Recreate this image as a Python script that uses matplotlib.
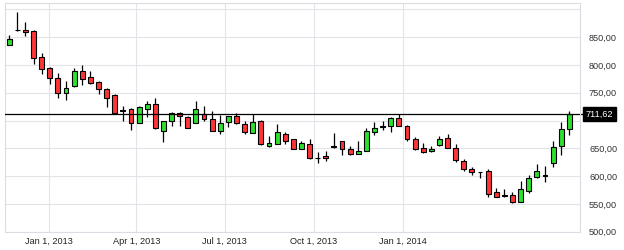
import numpy as np
import pandas as pd
import matplotlib
matplotlib.use("Agg")
import matplotlib.pyplot as plt
from matplotlib.transforms import blended_transform_factory

plt.rcParams['font.family'] = ['Liberation Sans', 'DejaVu Sans']

# Candle dates (one bar roughly every 8 days)
dates = pd.date_range("2012-11-21", "2014-06-21", periods=70)

opens = [835, 862, 862, 861, 815, 794, 777, 749, 762, 790,
         778, 769, 756, 746, 719, 721, 696, 720, 729, 681,
         700, 714, 707, 696, 712, 702, 682, 697, 708, 693,
         678, 700, 655, 658, 676, 666, 649, 658, 633, 637,
         652, 663, 648, 640, 646, 680, 688, 691, 705, 690,
         666, 651, 645, 656, 669, 651, 627, 613, 608, 609,
         572, 566, 566, 554, 573, 598, 601, 624, 655, 685]
highs = [854, 896, 878, 863, 822, 797, 786, 772, 794, 800,
         790, 772, 759, 747, 726, 722, 726, 736, 741, 700,
         716, 715, 708, 736, 727, 718, 710, 708, 714, 700,
         711, 701, 672, 693, 680, 667, 664, 666, 644, 646,
         678, 664, 654, 663, 686, 698, 700, 706, 711, 692,
         671, 659, 655, 672, 675, 658, 630, 616, 608, 612,
         579, 577, 572, 592, 602, 621, 619, 663, 697, 718]
lows = [835, 861, 852, 802, 784, 766, 741, 737, 761, 764,
        766, 748, 724, 713, 699, 683, 695, 706, 684, 661,
        690, 690, 686, 695, 699, 681, 676, 688, 694, 675,
        677, 656, 653, 657, 658, 648, 648, 631, 624, 628,
        651, 638, 638, 640, 645, 674, 683, 679, 690, 664,
        647, 642, 643, 655, 650, 626, 610, 602, 596, 563,
        562, 562, 551, 553, 570, 597, 589, 616, 638, 674]
closes = [846, 863, 860, 813, 792, 777, 749, 758, 790, 775,
          767, 756, 741, 714, 718, 696, 724, 729, 687, 699,
          714, 708, 687, 721, 703, 682, 696, 708, 696, 679,
          698, 657, 660, 680, 663, 649, 660, 632, 632, 632,
          655, 648, 640, 646, 681, 686, 691, 705, 691, 666,
          648, 643, 649, 667, 651, 629, 613, 608, 607, 568,
          563, 565, 554, 577, 597, 610, 602, 653, 685, 711.62]

last_price = closes[-1]
yticks = [500, 550, 600, 650, 700, 750, 800, 850, 900]
# 900 is off the label area, 700 sits under the last-price tag
hidden_labels = [700, 900]
xticks = pd.to_datetime(["2013-01-01", "2013-04-01", "2013-07-01",
                         "2013-10-01", "2014-01-01"])

o = np.array(opens, dtype=float)
c = np.array(closes, dtype=float)
colors = np.where(c >= o, "#2de02d", "#ff3535")

fig = plt.figure(figsize=(6.24, 2.5), dpi=100)
ax = fig.add_axes([5 / 624, 18.3 / 250, 575 / 624, 229 / 250])

ax.vlines(dates, lows, highs, color="black", linewidth=0.9, zorder=2)
ax.bar(dates, c - o, bottom=o, width=5.0, color=colors,
       edgecolor="black", linewidth=0.8, zorder=3)

# last price line and tag
ax.axhline(last_price, color="black", linewidth=0.9, zorder=4)
trans = blended_transform_factory(ax.transAxes, ax.transData)
ax.plot([1.0, 1.006], [last_price, last_price], color="black",
        linewidth=0.9, transform=trans, clip_on=False)
ax.text(1.0095, last_price, f"{last_price:.2f}".replace(".", ","),
        transform=trans, ha="left", va="center", color="white",
        fontsize=6.6, zorder=10,
        bbox=dict(boxstyle="square,pad=0.3", facecolor="black",
                  edgecolor="black"))

ax.set_ylim(500, 912)
ax.set_xlim(pd.Timestamp("2012-11-16 16:00"), pd.Timestamp("2014-07-02"))

ax.yaxis.tick_right()
ax.set_yticks(yticks)
ax.set_yticklabels(["" if v in hidden_labels else f"{v:.2f}".replace(".", ",")
                    for v in yticks])
ax.set_xticks(xticks)
ax.set_xticklabels([d.strftime("%b %-d, %Y") for d in xticks])
ax.tick_params(axis="y", length=0, pad=6.5, labelsize=6.6,
               labelcolor="#333333")
ax.tick_params(axis="x", length=0, pad=4, labelsize=6.6,
               labelcolor="#222222")

ax.grid(True, color="#e3e3ea", linewidth=0.8, zorder=0)
ax.set_axisbelow(True)
for s in ax.spines.values():
    s.set_color("#dcdce4")
    s.set_linewidth(0.8)

fig.savefig("out.png", dpi=100)
